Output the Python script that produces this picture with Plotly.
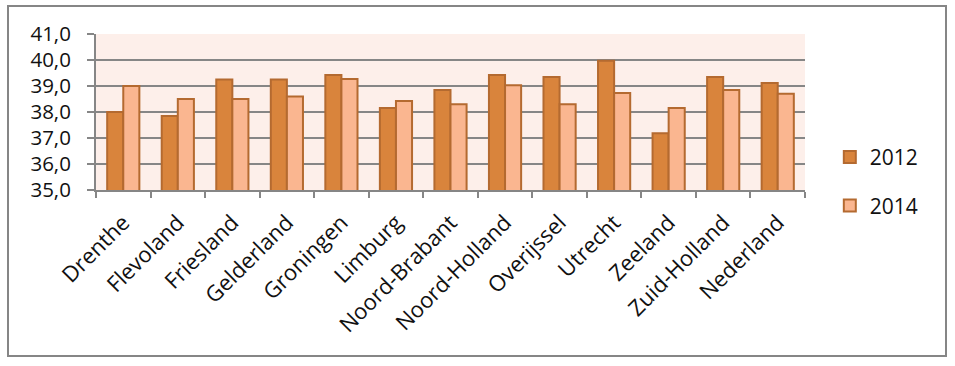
import plotly.graph_objects as go

provinces = ["Drenthe", "Flevoland", "Friesland", "Gelderland", "Groningen", "Limburg",
             "Noord-Brabant", "Noord-Holland", "Overijssel", "Utrecht", "Zeeland",
             "Zuid-Holland", "Nederland"]
values_2012 = [38.0, 37.85, 39.25, 39.25, 39.42, 38.15, 38.85, 39.42, 39.35, 39.97, 37.18, 39.35, 39.12]
values_2014 = [39.0, 38.5, 38.5, 38.6, 39.27, 38.42, 38.3, 39.03, 38.3, 38.73, 38.15, 38.85, 38.7]
y_ticks = [35, 36, 37, 38, 39, 40, 41]

font_family = "Open Sans, Noto Sans, sans-serif"
outline = "#B46A30"

fig = go.Figure()
fig.add_trace(go.Bar(x=provinces, y=values_2012, name="2012", legendgroup="a",
                     marker=dict(color="#D9843C", line=dict(color=outline, width=2))))
fig.add_trace(go.Bar(x=provinces, y=values_2014, name="2014", legendgroup="b",
                     marker=dict(color="#FAB690", line=dict(color=outline, width=2))))

fig.update_layout(
    width=955, height=366,
    margin=dict(l=96, r=150, t=34, b=176),
    paper_bgcolor="white",
    plot_bgcolor="#FDEFEA",
    barmode="group", bargap=0.41, bargroupgap=0,
    separators=",.",
    font=dict(family=font_family, color="#111111"),
    showlegend=True,
    legend=dict(x=1.035, y=0.34, xanchor="left", yanchor="top",
                font=dict(size=21, family=font_family), tracegroupgap=18,
                bgcolor="rgba(0,0,0,0)"),
    xaxis=dict(showline=True, linecolor="#868686", linewidth=2, automargin=False,
               ticks="outside", tickson="boundaries", ticklen=6, tickcolor="#868686",
               tickwidth=2, tickangle=-45, tickfont=dict(size=22), showgrid=False,
               ticklabelstandoff=9),
    yaxis=dict(range=[35, 41], tickvals=y_ticks, tickformat=".1f", automargin=False,
               showline=True, linecolor="#868686", linewidth=2,
               ticks="outside", ticklen=7, tickcolor="#868686", tickwidth=2,
               ticklabelstandoff=12,
               gridcolor="#868686", gridwidth=2, tickfont=dict(size=20.5),
               zeroline=False),
)

# outer chart border
fig.add_shape(type="rect", xref="paper", yref="paper",
              x0=(8 - 96) / 709, x1=(946 - 96) / 709,
              y0=(190 - 356) / 156, y1=(190 - 6) / 156,
              line=dict(color="#868686", width=2), fillcolor="rgba(0,0,0,0)", layer="below")

fig.write_html("out.html", config={"displayModeBar": False},
               post_script="document.body.style.margin='0';")
